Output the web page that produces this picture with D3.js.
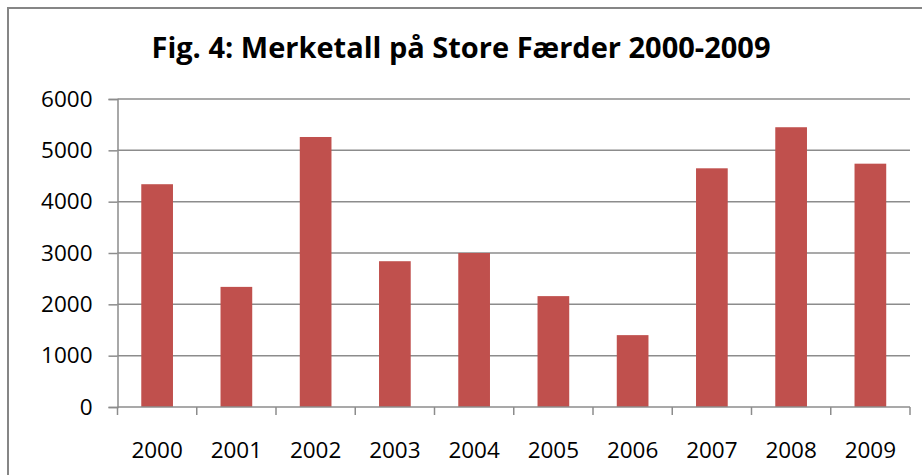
<!DOCTYPE html>
<html>
    <head>
        <meta charset="utf-8">
        <title>Merketall</title>
        <style>
            body { margin: 0; background: #fff; }
            text { font-family: "Open Sans", "Noto Sans", sans-serif; fill: #000; }
        </style>
    </head>
    <body>
        <script src="https://d3js.org/d3.v7.min.js"></script>
        <script>
            // data
            var years = ["2000", "2001", "2002", "2003", "2004", "2005", "2006", "2007", "2008", "2009"];
            var counts = [4340, 2340, 5260, 2840, 3000, 2160, 1400, 4650, 5450, 4740];
            var yTicks = [0, 1000, 2000, 3000, 4000, 5000, 6000];
            var title = "Fig. 4: Merketall på Store Færder 2000-2009";

            var width = 922, height = 475;
            var plot = {left: 117.5, right: 910, top: 99, bottom: 407};

            var svg = d3.select("body").append("svg")
                .attr("width", width)
                .attr("height", height);

            // chart frame
            svg.append("rect")
                .attr("x", 8).attr("y", 8)
                .attr("width", width).attr("height", height)
                .attr("fill", "none")
                .attr("stroke", "#868686")
                .attr("stroke-width", 2);

            svg.append("text")
                .attr("x", 461).attr("y", 58)
                .attr("text-anchor", "middle")
                .attr("font-size", 29)
                .attr("font-weight", "bold")
                .text(title);

            var x = d3.scaleBand()
                .domain(years)
                .range([plot.left, plot.right])
                .paddingInner(0.6)
                .paddingOuter(0.3);

            var y = d3.scaleLinear()
                .domain([0, 6000])
                .range([plot.bottom, plot.top]);

            // gridlines
            svg.append("g")
                .selectAll("line")
                .data(yTicks.slice(1))
                .enter().append("line")
                .attr("x1", plot.left).attr("x2", plot.right)
                .attr("y1", function(d) { return y(d); })
                .attr("y2", function(d) { return y(d); })
                .attr("stroke", "#8c8c8c")
                .attr("stroke-width", 1.5);

            // bars
            svg.append("g")
                .selectAll("rect")
                .data(counts)
                .enter().append("rect")
                .attr("x", function(d, i) { return x(years[i]); })
                .attr("width", x.bandwidth())
                .attr("y", function(d) { return y(d); })
                .attr("height", function(d) { return y(0) - y(d); })
                .attr("fill", "#C0504D");

            // y axis
            var yAxis = d3.axisLeft(y)
                .tickValues(yTicks)
                .tickSize(9)
                .tickPadding(16)
                .tickFormat(d3.format("d"));
            var yg = svg.append("g")
                .attr("transform", "translate(" + plot.left + ",0)")
                .call(yAxis);
            yg.selectAll("text").attr("font-size", 22.5).attr("font-family", null);
            yg.select(".domain").attr("stroke", "#8c8c8c").attr("stroke-width", 1.5);
            yg.selectAll(".tick line").attr("stroke", "#8c8c8c").attr("stroke-width", 1.5);

            // x axis, ticks sit between categories
            var tickPos = d3.range(years.length + 1).map(function(i) {
                return plot.left + i * x.step();
            });
            var xg = svg.append("g")
                .attr("transform", "translate(0," + plot.bottom + ")");
            xg.append("line")
                .attr("x1", plot.left).attr("x2", plot.right)
                .attr("stroke", "#8c8c8c").attr("stroke-width", 1.5);
            xg.selectAll(".tk")
                .data(tickPos)
                .enter().append("line")
                .attr("class", "tk")
                .attr("x1", function(d) { return d; }).attr("x2", function(d) { return d; })
                .attr("y1", 0).attr("y2", 8)
                .attr("stroke", "#8c8c8c").attr("stroke-width", 1.5);
            xg.selectAll("text")
                .data(years)
                .enter().append("text")
                .attr("x", function(d) { return x(d) + x.bandwidth() / 2; })
                .attr("y", 51)
                .attr("text-anchor", "middle")
                .attr("font-size", 22.5)
                .text(function(d) { return d; });
        </script>
    </body>
</html>
